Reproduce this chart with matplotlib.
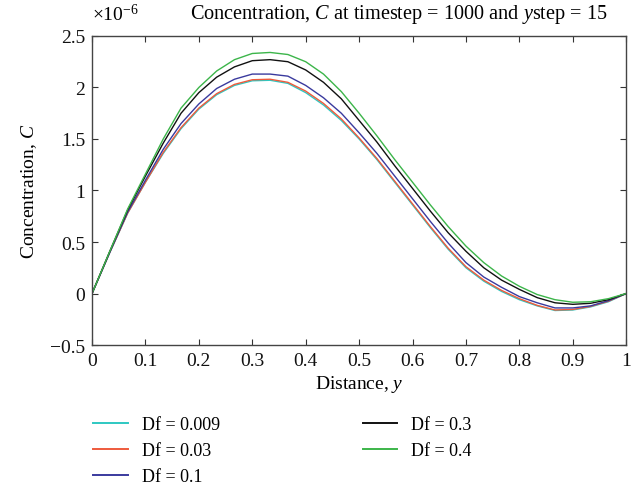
import numpy as np
import matplotlib
matplotlib.use("Agg")
import matplotlib.pyplot as plt

plt.rcParams['font.family'] = ['Liberation Serif', 'DejaVu Serif']
plt.rcParams['mathtext.fontset'] = 'custom'
plt.rcParams['mathtext.rm'] = 'Liberation Serif'
plt.rcParams['mathtext.it'] = 'Liberation Serif:italic'

# distance grid (31 nodes from 0 to 1)
y_pos = np.linspace(0, 1, 31)

# concentration values, in units of 1e-6
c_0009 = [0, 0.40, 0.78, 1.08, 1.36, 1.60, 1.79, 1.93, 2.02, 2.065, 2.07, 2.04, 1.95, 1.83, 1.68, 1.50,
          1.30, 1.08, 0.86, 0.64, 0.43, 0.25, 0.12, 0.02, -0.06, -0.12, -0.165, -0.16, -0.13, -0.08, 0]
c_003 = [0, 0.40, 0.78, 1.08, 1.37, 1.61, 1.80, 1.94, 2.03, 2.075, 2.08, 2.05, 1.965, 1.845, 1.695, 1.51,
         1.31, 1.09, 0.87, 0.65, 0.44, 0.26, 0.13, 0.03, -0.05, -0.115, -0.16, -0.155, -0.125, -0.075, 0]
c_01 = [0, 0.40, 0.79, 1.10, 1.40, 1.65, 1.84, 1.99, 2.08, 2.13, 2.13, 2.11, 2.02, 1.90, 1.75, 1.56,
        1.36, 1.14, 0.92, 0.70, 0.49, 0.30, 0.16, 0.06, -0.03, -0.09, -0.14, -0.14, -0.12, -0.07, 0]
c_03 = [0, 0.41, 0.81, 1.14, 1.46, 1.75, 1.95, 2.10, 2.20, 2.26, 2.27, 2.25, 2.17, 2.05, 1.89, 1.68,
        1.47, 1.24, 1.02, 0.80, 0.59, 0.41, 0.25, 0.13, 0.04, -0.04, -0.09, -0.105, -0.095, -0.06, 0]
c_04 = [0, 0.41, 0.82, 1.16, 1.50, 1.80, 2.00, 2.16, 2.27, 2.33, 2.34, 2.32, 2.25, 2.13, 1.96, 1.75,
        1.53, 1.30, 1.08, 0.86, 0.65, 0.46, 0.30, 0.17, 0.07, -0.01, -0.06, -0.085, -0.08, -0.05, 0]

series = [c_0009, c_003, c_01, c_03, c_04]
labels = ['Df = 0.009', 'Df = 0.03', 'Df = 0.1', 'Df = 0.3', 'Df = 0.4']
colors = ['#2ec8c2', '#ee5a3c', '#3a3a9e', '#111111', '#3cb54a']

fig = plt.figure(figsize=(6.39, 4.89), dpi=100)
ax = fig.add_axes([0.144, 0.2924, 0.836, 0.632])

for vals, lab, col in zip(series, labels, colors):
    ax.plot(y_pos, vals, color=col, lw=1.0, label=lab)

ax.set_xlim(0, 1)
ax.set_ylim(-0.5, 2.5)
ax.set_xticks(np.arange(0, 1.01, 0.1))
ax.set_xticklabels(['0', '0.1', '0.2', '0.3', '0.4', '0.5', '0.6', '0.7', '0.8', '0.9', '1'])
ax.set_yticks([-0.5, 0, 0.5, 1, 1.5, 2, 2.5])
ax.set_yticklabels(['\u22120.5', '0', '0.5', '1', '1.5', '2', '2.5'])
ax.tick_params(direction='in', top=True, right=True, length=4, width=0.8, pad=5,
               labelsize=14, colors='#333333', labelcolor='#111111')
for s in ax.spines.values():
    s.set_color('#444444')
    s.set_linewidth(1.0)

ax.set_xlabel('Distance, $y$', fontsize=14, labelpad=3)
ax.set_ylabel('Concentration, $C$', fontsize=14, labelpad=8)

fig.text(92 / 639, 1 - 14 / 489, r'$\times$10$^{-6}$', fontsize=14, va='center', ha='left')
fig.text(190 / 639, 1 - 14 / 489, 'Concentration, $C$ at timestep = 1000 and $y$step = 15',
         fontsize=14.6, va='center', ha='left')

leg = fig.legend(loc='upper left', bbox_to_anchor=(86 / 639, 1 - 410 / 489), borderaxespad=0,
                 ncol=2, frameon=False, fontsize=13, handlelength=1.9, handletextpad=0.8,
                 columnspacing=7.9, labelspacing=0.5)
for h in leg.get_lines():
    h.set_linewidth(1.4)

fig.savefig('out.png', dpi=100)
